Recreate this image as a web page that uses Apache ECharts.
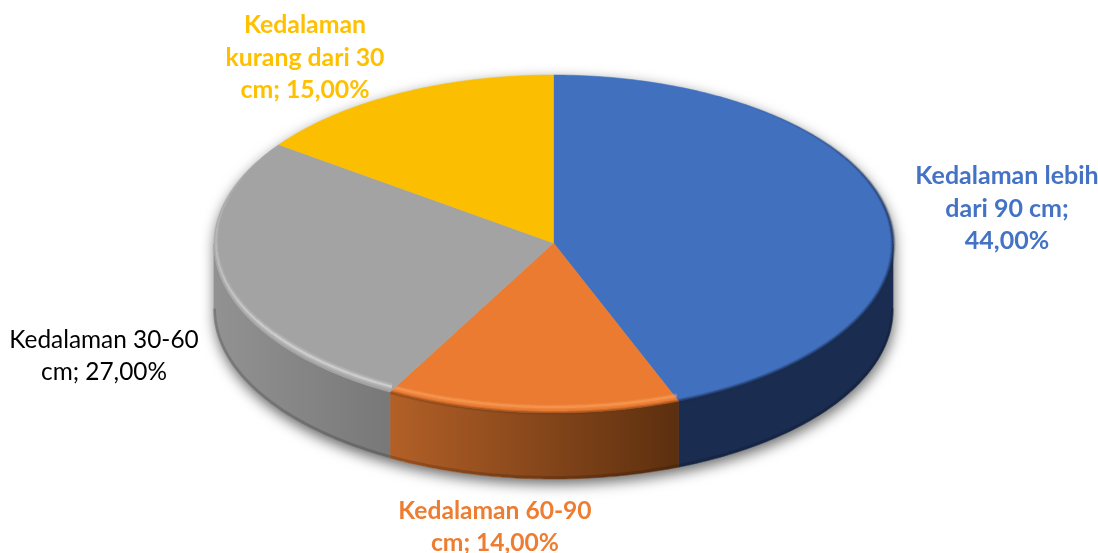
<!DOCTYPE html>
<html><head><meta charset="utf-8">
<style>html,body{margin:0;padding:0;background:#fff}#c{width:1098px;height:553px}</style>
<script src="https://cdn.jsdelivr.net/npm/echarts@6/dist/echarts.min.js"></script>
</head><body><div id="c"></div>
<script>
const categories = ['Kedalaman lebih dari 90 cm','Kedalaman 60-90 cm','Kedalaman 30-60 cm','Kedalaman kurang dari 30 cm'];
const values = [44, 14, 27, 15];
const topColors = ['#4170BF','#EA7B30','#A3A3A3','#FBBE00'];
const labelColors = ['#4472C4','#ED7D31','#000000','#FFC000'];
const labelWeights = ['bold','bold','normal','bold'];
const labelSizes = [25,24.6,24.4,24.8];
const labelWraps = [[15,27],[15],[15],[9,24]];
const labelAnchors = [[1007,208.5],[495,527],[104,356],[305,58]];
const wallStops = [['#1a2d50','#1a2d50'],['#b36027','#5c2f0f'],['#929292','#787878'],['#000','#000']];
// inner-rim shading of the top face: [inset, width, colour]
const rimLayers = [
  [[0,5,'rgba(26,45,80,0.22)'],[0,3,'rgba(26,45,80,0.32)'],[0,1.5,'rgba(26,45,80,0.45)']],
  [[0,4,'rgba(110,55,20,0.25)'],[0,2,'rgba(110,55,20,0.35)'],[6,5,'rgba(255,165,100,0.22)'],[6,2.5,'rgba(255,175,115,0.35)']],
  [[6,7,'rgba(225,225,225,0.18)'],[6,4,'rgba(225,225,225,0.25)'],[6,2,'rgba(235,235,235,0.4)']],
  []
];
const rimStart = [0.5,0,0,0];
const rimEndMax = [9,9,5.3,9];
const rimFadeIn = [1.0,0,0,0];
const rimFadeOut = [0,0,1.2,0];

const C = {x:553.5, y:244, rx:339.5, ry:169, d:66};
const total = values.reduce((a,b)=>a+b,0);
const toA = v => v/total*Math.PI*2;
function pt(t, rx, ry, dy){ return [C.x+rx*Math.sin(t), C.y-ry*Math.cos(t)+(dy||0)]; }
function arc(a,b,rx,ry,dy){ const n=Math.max(2,Math.ceil(Math.abs(b-a)/0.015)); const o=[];
  for(let i=0;i<=n;i++) o.push(pt(a+(b-a)*i/n,rx,ry,dy)); return o; }
function labelText(i){
  const s = categories[i]+'; '+values[i].toFixed(2).replace('.',',')+'%';
  const out=[]; let p=0; labelWraps[i].forEach(w=>{ out.push(s.slice(p,w).trim()); p=w; }); out.push(s.slice(p).trim());
  return out.join('\n');
}
function render(params, api){
  const i = params.dataIndex; const v = api.value(0);
  let s = 0; for(let k=0;k<i;k++) s+=values[k];
  const a = toA(s), b = toA(s+v);
  const kids = [];
  const wa = Math.max(a,Math.PI/2), wb = Math.min(b,Math.PI*1.5);
  if(wb>wa){
    const top = arc(wa,wb,C.rx,C.ry,0), bot = arc(wb,wa,C.rx,C.ry,C.d);
    const x0=Math.min(pt(wa,C.rx,C.ry)[0],pt(wb,C.rx,C.ry)[0]), x1=Math.max(pt(wa,C.rx,C.ry)[0],pt(wb,C.rx,C.ry)[0]);
    const g=new echarts.graphic.LinearGradient(x0,0,x1,0,[{offset:0,color:wallStops[i][0]},{offset:1,color:wallStops[i][1]}],true);
    kids.push({type:'polygon',shape:{points:top.concat(bot)},style:{fill:g,stroke:g,lineWidth:.6}});
    kids.push({type:'polyline',shape:{points:arc(wa,wb,C.rx-.5,C.ry,C.d-1.5)},
      style:{fill:null,stroke:'rgba(0,0,0,0.16)',lineWidth:3}});
  }
  kids.push({type:'polygon',shape:{points:[[C.x,C.y-1]].concat(arc(a,b,C.rx,C.ry,0))},
    style:{fill:topColors[i],stroke:topColors[i],lineWidth:.5}});
  const ra=Math.max(a,rimStart[i]), rb=Math.min(b,rimEndMax[i]);
  rimLayers[i].forEach(l=>{
    const step=0.05, n=Math.ceil((rb-ra)/step);
    for(let k=0;k<n;k++){
      const t0=ra+(rb-ra)*k/n, t1=ra+(rb-ra)*(k+1)/n, tm=(t0+t1)/2;
      let f=1;
      if(rimFadeIn[i]) f*=Math.min(1,(tm-ra)/rimFadeIn[i]);
      if(rimFadeOut[i]) f*=Math.min(1,(rb-tm)/rimFadeOut[i]);
      kids.push({type:'polyline',shape:{points:arc(t0,t1,C.rx-l[0]*0.7*f,C.ry-l[0]*f,0)},
        style:{fill:null,stroke:l[2],opacity:f,lineWidth:l[1]*(0.4+0.6*f),lineCap:'butt'}});
    }
  });
  kids.push({type:'text',style:{text:labelText(i),x:labelAnchors[i][0],y:labelAnchors[i][1],
    fill:labelColors[i],align:'center',verticalAlign:'middle',lineHeight:32.5,
    font:labelWeights[i]+' '+labelSizes[i]+'px Lato'},z2:10});
  return {type:'group',children:kids};
}
const chart = echarts.init(document.getElementById('c'),null,{renderer:'canvas'});
chart.setOption({animation:false,backgroundColor:'#fff',series:[
 {type:'custom',coordinateSystem:'none',silent:true,z:1,data:[total],renderItem:function(){
   const pts = arc(Math.PI/2,Math.PI*1.5,C.rx,C.ry,C.d).concat(arc(Math.PI*1.5,Math.PI*2.5,C.rx,C.ry,0));
   return {type:'polygon',shape:{points:pts},style:{fill:'#ddd',shadowBlur:14,shadowColor:'rgba(0,0,0,0.6)',shadowOffsetY:5,shadowOffsetX:1}};
 }},
 {type:'custom',coordinateSystem:'none',silent:true,z:2,data:values,renderItem:render}
]});
</script></body></html>
